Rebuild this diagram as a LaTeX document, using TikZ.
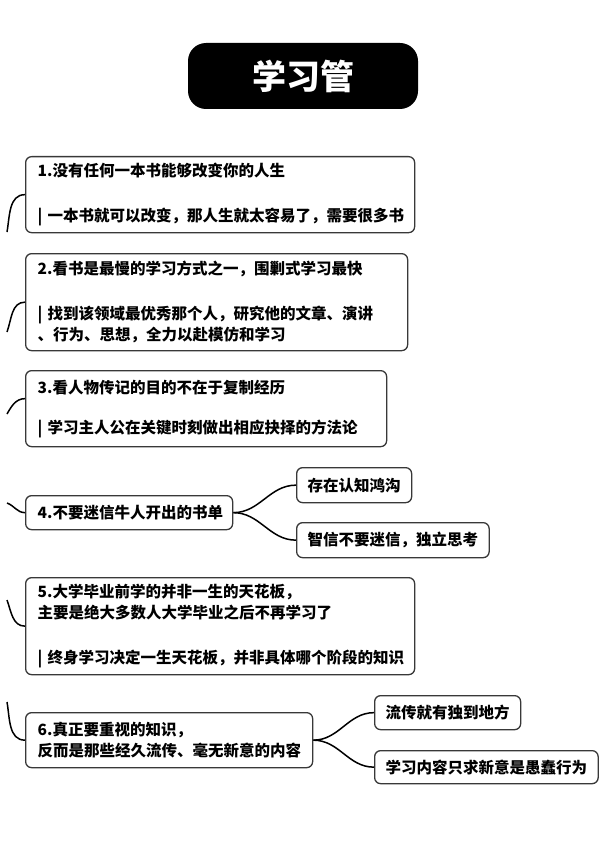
\documentclass[tikz,border=0pt]{standalone}
\usepackage{fontspec}
\setmainfont{Noto Sans CJK SC}

\tikzset{
  box/.style={draw=black!78, line width=1.3pt, rounded corners=6pt, fill=white,
    anchor=north west, align=left, inner xsep=12pt, inner ysep=0pt,
    font=\bfseries\fontsize{15.5}{21}\selectfont},
  titlebox/.style={fill=black, rounded corners=18pt, text=white,
    minimum width=230pt, minimum height=66pt,
    font=\bfseries\fontsize{34}{34}\selectfont},
  link/.style={line width=1.5pt, black},
}

\begin{document}
\begin{tikzpicture}[x=1pt,y=-1pt]
\useasboundingbox[fill=white] (0,0) rectangle (613,845);

% 标题
\node [titlebox] (title) at (303,76) {学习管};

% 主题
\node [box, text width=365pt, minimum height=76pt] (b1) at (25,156)
  {1.没有任何一本书能够改变你的人生\\[24pt]| 一本书就可以改变，那人生就太容易了，需要很多书};
\node [box, text width=358pt, minimum height=97pt] (b2) at (25,253)
  {2.看书是最慢的学习方式之一，围剿式学习最快\\[24pt]| 找到该领域最优秀那个人，研究他的文章、演讲\\、行为、思想，全力以赴模仿和学习};
\node [box, text width=337pt, minimum height=76pt] (b3) at (25,370)
  {3.看人物传记的目的不在于复制经历\\[19pt]| 学习主人公在关键时刻做出相应抉择的方法论};
\node [box, text width=183pt, minimum height=34pt] (b4) at (25,495)
  {4.不要迷信牛人开出的书单};
\node [box, text width=365pt, minimum height=97pt] (b5) at (25,577)
  {5.大学毕业前学的并非一生的天花板，\\主要是绝大多数人大学毕业之后不再学习了\\[24pt]| 终身学习决定一生天花板，并非具体哪个阶段的知识};
\node [box, text width=263pt, minimum height=55pt] (b6) at (25,712)
  {6.真正要重视的知识，\\反而是那些经久流传、毫无新意的内容};

% 子主题
\node [box, inner xsep=11pt, minimum height=35pt] (b4a) at (296,467) {存在认知鸿沟};
\node [box, inner xsep=11pt, minimum height=35pt] (b4b) at (296,522) {智信不要迷信，独立思考};
\node [box, inner xsep=11pt, minimum height=34pt] (b6a) at (374,695) {流传就有独到地方};
\node [box, inner xsep=11pt, minimum height=33pt] (b6b) at (374,750) {学习内容只求新意是愚蠢行为};

% 左侧连线
\coordinate (s1) at (7,232);
\coordinate (s2) at (7,332);
\coordinate (s3) at (7,414);
\coordinate (s4) at (7,503);
\coordinate (s5) at (7,600);
\coordinate (s6) at (7,702);
\draw [link] (s1) to[out=80,in=180] (b1.west);
\draw [link] (s2) to[out=70,in=180] (b2.west);
\draw [link] (s3) to[out=60,in=180] ([yshift=10pt]b3.west);
\draw [link] (s4) to[out=-20,in=180] (b4.west);
\draw [link] (s5) to[out=-70,in=180] (b5.west);
\draw [link] (s6) to[out=-80,in=180] (b6.west);

% 右侧连线
\draw [link] (b4.east) to[out=0,in=180] (b4a.west);
\draw [link] (b4.east) to[out=0,in=180] (b4b.west);
\draw [link] (b6.east) to[out=0,in=180] (b6a.west);
\draw [link] (b6.east) to[out=0,in=180] (b6b.west);
\end{tikzpicture}
\end{document}
